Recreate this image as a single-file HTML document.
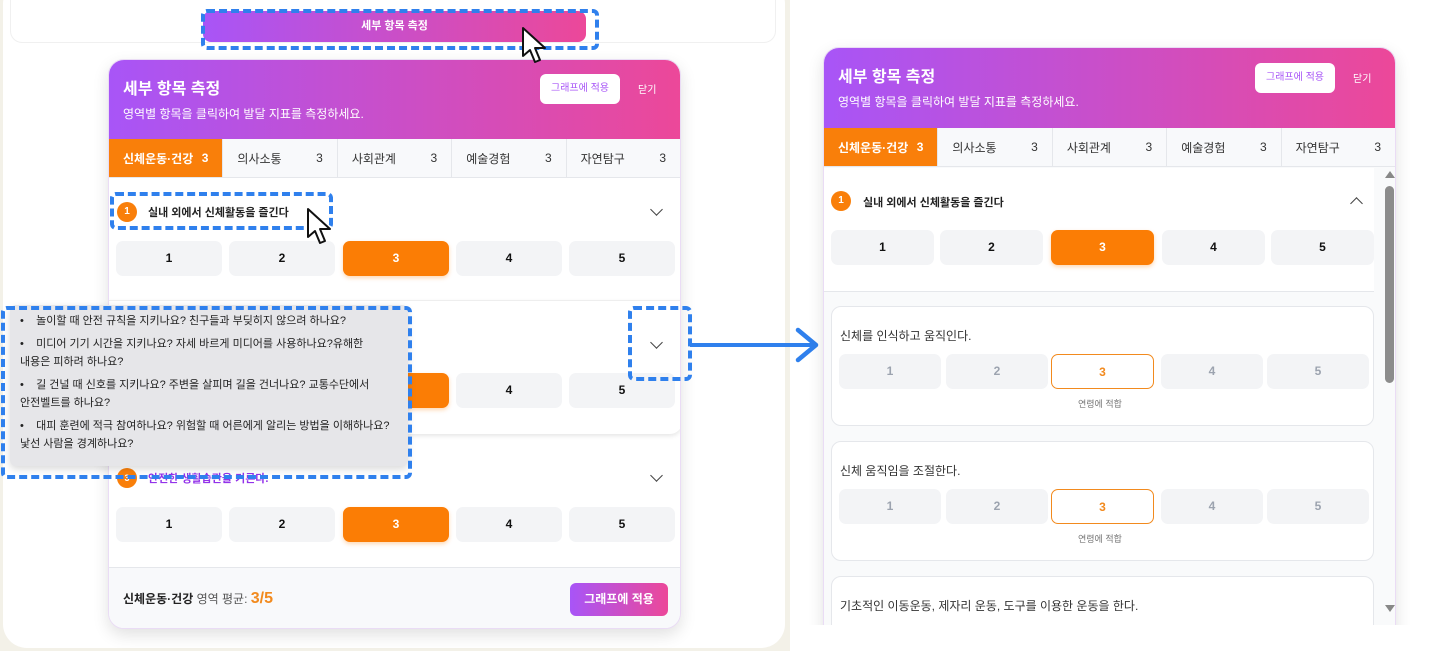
<!DOCTYPE html>
<html><head><meta charset="utf-8"><style>
*{box-sizing:border-box;margin:0;padding:0}
body{width:1444px;height:651px;position:relative;overflow:hidden;background:#fff;font-family:"Liberation Sans","Noto Sans CJK KR",sans-serif;color:#222}
.a{position:absolute}
.grad{background:linear-gradient(90deg,#a855f7,#ec4899)}
.modal{position:absolute;background:#fff;border-radius:16px;box-shadow:0 6px 16px rgba(0,0,0,.12);overflow:hidden;border:1px solid #eadcf5}
.hd{position:absolute;left:0;top:0;width:100%;height:79px}
.hd h1{position:absolute;left:14px;top:15px;font-size:16px;color:#fff;font-weight:bold}
.hd p{position:absolute;left:14px;top:45px;font-size:12px;color:#fff}
.hb{position:absolute;top:14px;width:80px;height:30px;background:#fff;border-radius:6px;color:#a855f7;font-size:10px;text-align:center;line-height:30px}
.cl{position:absolute;top:21px;font-size:10px;color:#fff}
.tabs{position:absolute;left:0;top:79px;width:100%;height:39px;background:#f8f9fb;border-bottom:1px solid #e5e7eb;display:flex}
.tab{flex:1;display:flex;justify-content:space-between;align-items:center;padding:0 14px;font-size:12px;color:#333;border-right:1px solid #e5e7eb}
.tab.on{background:#f97f0a;color:#fff;font-weight:bold}
.btn{position:absolute;width:106px;height:35px;border-radius:7px;background:#f3f4f6;font-size:12px;font-weight:bold;text-align:center;line-height:35px;color:#111}
.btn.o{background:#fb7d05;color:#fff;box-shadow:0 2px 4px rgba(251,125,5,.3)}
.btn.g{color:#9ca3af;width:102px}
.btn.ob{background:#fff;border:1px solid #f28a1e;color:#f28a1e;width:103px}
.num{position:absolute;width:20px;height:20px;border-radius:50%;background:#f97f0a;color:#fff;font-size:10px;font-weight:bold;text-align:center;line-height:20px}
.tt{position:absolute;font-size:11px;font-weight:bold;color:#222}
.chev{position:absolute;width:9px;height:9px;border-right:1.6px solid #444;border-bottom:1.6px solid #444;transform:rotate(45deg)}
.dash{position:absolute;border:4px dashed #2f80ed;border-radius:6px}
.card{position:absolute;left:7px;width:543px;background:#fff;border:1px solid #e5e7eb;border-radius:10px}
.ct{position:absolute;left:8px;font-size:12px;color:#333}
.lab{position:absolute;font-size:9px;color:#777}
</style></head><body>
<div class="a" style="left:0;top:0;width:790px;height:651px;background:#f3f1e8"></div>
<div class="a" style="left:3px;top:-20px;width:782px;height:668px;background:#fff;border-radius:24px"></div>
<div class="a" style="left:10px;top:-20px;width:766px;height:63px;border:1px solid #f0f0f0;border-radius:12px;background:#fff"></div>
<div class="a grad" style="left:203px;top:11px;width:383px;height:31px;border-radius:8px;color:#fff;font-size:11px;font-weight:bold;text-align:center;line-height:31px">세부 항목 측정</div>

<div class="modal" style="left:108px;top:59px;width:573px;height:570px">
 <div class="hd grad"><h1>세부 항목 측정</h1><p>영역별 항목을 클릭하여 발달 지표를 측정하세요.</p>
  <div class="hb" style="left:431px">그래프에 적용</div><div class="cl" style="left:529px">닫기</div></div>
 <div class="tabs"><div class="tab on"><span>신체운동·건강</span><span>3</span></div><div class="tab"><span>의사소통</span><span>3</span></div><div class="tab"><span>사회관계</span><span>3</span></div><div class="tab"><span>예술경험</span><span>3</span></div><div class="tab" style="border:0"><span>자연탐구</span><span>3</span></div></div>
 <div class="num" style="left:8px;top:142px">1</div><div class="tt" style="left:39px;top:144px">실내 외에서 신체활동을 즐긴다</div>
 <div class="chev" style="left:543px;top:145px"></div>
 <div class="btn" style="left:7px;top:181px">1</div><div class="btn" style="left:120px;top:181px">2</div><div class="btn o" style="left:234px;top:181px">3</div><div class="btn" style="left:347px;top:181px">4</div><div class="btn" style="left:460px;top:181px">5</div>
 <div class="a" style="left:0;top:240px;width:573px;height:134px;box-shadow:0 2px 5px rgba(0,0,0,.1);border-radius:0 0 12px 12px;border-top:1px solid #eee"></div>
 <div class="chev" style="left:543px;top:278px"></div>
 <div class="btn o" style="left:234px;top:313px">3</div><div class="btn" style="left:347px;top:313px">4</div><div class="btn" style="left:460px;top:313px">5</div>
 <div class="num" style="left:8px;top:408px;font-size:9px">3</div><div class="tt" style="left:39px;top:410px;color:#9333ea">안전한 생활습관을 기른다.</div>
 <div class="chev" style="left:543px;top:411px"></div>
 <div class="btn" style="left:7px;top:447px">1</div><div class="btn" style="left:120px;top:447px">2</div><div class="btn o" style="left:234px;top:447px">3</div><div class="btn" style="left:347px;top:447px">4</div><div class="btn" style="left:460px;top:447px">5</div>
 <div class="a" style="left:0;top:507px;width:573px;height:63px;background:#f8f9fb;border-top:1px solid #e5e7eb">
  <div class="a" style="left:14px;top:22px;font-size:12px"><b>신체운동·건강</b> <span style="color:#555">영역 평균:</span> <b style="color:#f28a1e;font-size:16px">3/5</b></div>
  <div class="a grad" style="left:461px;top:15px;width:98px;height:33px;border-radius:6px;color:#fff;font-size:12px;font-weight:bold;text-align:center;line-height:33px">그래프에 적용</div>
 </div>
</div>

<div class="a" style="left:10px;top:305px;width:398px;height:161px;background:#e6e6e9;border-radius:6px;box-shadow:0 3px 8px rgba(0,0,0,.15);font-size:11px;color:#222;line-height:18px;padding:7px 14px 0 10px;word-break:keep-all">
<div style="margin-bottom:5px">•&nbsp;&nbsp;&nbsp; 놀이할 때 안전 규칙을 지키나요? 친구들과 부딪히지 않으려 하나요?</div>
<div style="margin-bottom:5px">•&nbsp;&nbsp;&nbsp; 미디어 기기 시간을 지키나요? 자세 바르게 미디어를 사용하나요?유해한 내용은 피하려 하나요?</div>
<div style="margin-bottom:5px">•&nbsp;&nbsp;&nbsp; 길 건널 때 신호를 지키나요? 주변을 살피며 길을 건너나요? 교통수단에서 안전벨트를 하나요?</div>
<div>•&nbsp;&nbsp;&nbsp; 대피 훈련에 적극 참여하나요? 위험할 때 어른에게 알리는 방법을 이해하나요?낯선 사람을 경계하나요?</div>
</div>

<div class="dash" style="left:201px;top:9px;width:398px;height:41px"></div>
<div class="dash" style="left:110px;top:192px;width:223px;height:38px"></div>
<div class="dash" style="left:1px;top:306px;width:411px;height:173px"></div>
<div class="dash" style="left:628px;top:306px;width:64px;height:75px"></div>

<svg class="a" style="left:520px;top:26px" width="32" height="40" viewBox="0 0 32 40"><path d="M3 2 L3 30 L10 24 L15 36 L20 34 L15 22 L25 22 Z" fill="#fff" stroke="#111" stroke-width="2" stroke-linejoin="round"/></svg>
<svg class="a" style="left:305px;top:207px" width="32" height="40" viewBox="0 0 32 40"><path d="M3 2 L3 30 L10 24 L15 36 L20 34 L15 22 L25 22 Z" fill="#fff" stroke="#111" stroke-width="2" stroke-linejoin="round"/></svg>

<svg class="a" style="left:688px;top:325px" width="135" height="40"><line x1="2" y1="20" x2="128" y2="20" stroke="#2f80ed" stroke-width="4"/><polyline points="110,5 128,20 110,35" fill="none" stroke="#2f80ed" stroke-width="4.5" stroke-linecap="round" stroke-linejoin="round"/></svg>

<div class="modal" style="left:823px;top:47px;width:573px;height:600px;border-radius:16px 16px 0 0;background:#f9fafb">
 <div class="hd grad" style="height:80px"><h1>세부 항목 측정</h1><p>영역별 항목을 클릭하여 발달 지표를 측정하세요.</p>
  <div class="hb" style="left:431px;top:15px">그래프에 적용</div><div class="cl" style="left:529px;top:22px">닫기</div></div>
 <div class="tabs" style="top:80px"><div class="tab on"><span>신체운동·건강</span><span>3</span></div><div class="tab"><span>의사소통</span><span>3</span></div><div class="tab"><span>사회관계</span><span>3</span></div><div class="tab"><span>예술경험</span><span>3</span></div><div class="tab" style="border:0"><span>자연탐구</span><span>3</span></div></div>
 <div class="a" style="left:0;top:120px;width:550px;height:124px;background:#fff;border-bottom:1px solid #e5e7eb"></div>
 <div class="num" style="left:7px;top:143px">1</div><div class="tt" style="left:39px;top:146px">실내 외에서 신체활동을 즐긴다</div>
 <div class="chev" style="left:528px;top:151px;transform:rotate(-135deg)"></div>
 <div class="btn" style="left:7px;top:182px;width:103px">1</div><div class="btn" style="left:116px;top:182px;width:103px">2</div><div class="btn o" style="left:227px;top:182px;width:103px">3</div><div class="btn" style="left:338px;top:182px;width:103px">4</div><div class="btn" style="left:447px;top:182px;width:103px">5</div>
 <div class="card" style="top:258px;height:120px"><div class="ct" style="top:20px">신체를 인식하고 움직인다.</div>
  <div class="btn g" style="left:7px;top:47px">1</div><div class="btn g" style="left:114px;top:47px">2</div><div class="btn ob" style="left:219px;top:47px">3</div><div class="btn g" style="left:329px;top:47px">4</div><div class="btn g" style="left:435px;top:47px">5</div>
  <div class="lab" style="left:246px;top:90px">연령에 적합</div></div>
 <div class="card" style="top:393px;height:120px"><div class="ct" style="top:20px">신체 움직임을 조절한다.</div>
  <div class="btn g" style="left:7px;top:47px">1</div><div class="btn g" style="left:114px;top:47px">2</div><div class="btn ob" style="left:219px;top:47px">3</div><div class="btn g" style="left:329px;top:47px">4</div><div class="btn g" style="left:435px;top:47px">5</div>
  <div class="lab" style="left:246px;top:90px">연령에 적합</div></div>
 <div class="card" style="top:528px;height:80px"><div class="ct" style="top:20px">기초적인 이동운동, 제자리 운동, 도구를 이용한 운동을 한다.</div></div>
 <div class="a" style="left:0;top:577px;width:573px;height:30px;background:#fff;border-top:1px solid #e5e7eb"></div>
 <div class="a" style="left:561px;top:123px;width:0;height:0;border-left:5px solid transparent;border-right:5px solid transparent;border-bottom:7px solid #888"></div>
 <div class="a" style="left:561px;top:138px;width:9px;height:197px;background:#8c8c8c;border-radius:5px"></div>
 <div class="a" style="left:561px;top:557px;width:0;height:0;border-left:5px solid transparent;border-right:5px solid transparent;border-top:7px solid #888"></div>
</div>
<div class="a" style="left:800px;top:625px;width:644px;height:26px;background:#fff"></div>
</body></html>
